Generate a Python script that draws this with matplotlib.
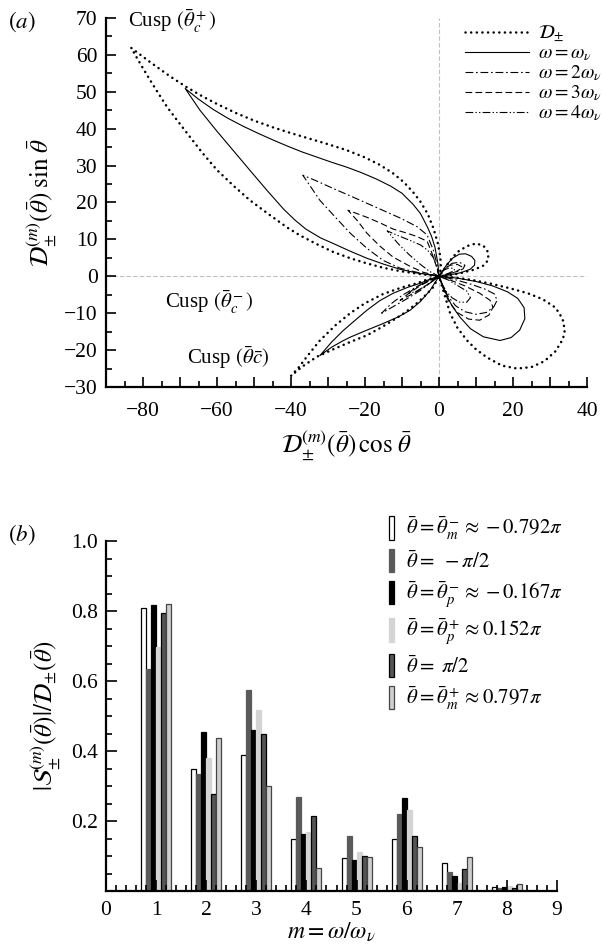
import numpy as np
import matplotlib
matplotlib.use('Agg')
import matplotlib.pyplot as plt
import matplotlib.transforms as mtransforms
from matplotlib.ticker import MultipleLocator, FuncFormatter

plt.rcParams['font.family'] = ['Liberation Serif', 'DejaVu Serif']
plt.rcParams['mathtext.fontset'] = 'stix'

# ---- panel (a): curves, each one path through the origin
# (big lobe -> lower-left lobe -> lower-right lobe -> upper-right lobe)
env_x = [0, 0.5, 0.4, -0.3, -1.5, -3, -5, -7, -9.5, -12.4, -16, -20, -25, -30, -35, -40, -45,
         -50, -55, -60, -64, -68.6, -73, -78, -83.2,
         -80.5, -78.1, -75.8, -73.5, -70.8, -68.1, -64, -60, -55.5, -51.1, -46, -41, -37.6,
         -33, -28.6, -24, -19.5, -15, -10.5, -5, 0,
         -3, -6, -10, -15.1, -20, -24, -28, -32.2, -35.5, -38, -40,
         -37, -33, -28.6, -24, -19.5, -15.5, -12.4, -9, -6, -3.5, -1.6, 0,
         0.6, 1.5, 3, 5, 7.6, 10, 13, 17, 21.1, 25, 28.5, 31.5, 33.5, 34, 33.4, 31.5, 28,
         24, 19, 14, 9, 4, 0,
         1.5, 3, 5, 7.6, 10, 12, 13.3, 13.3, 12, 9.5, 6, 3, 0]
env_y = [0, 2, 5, 8.9, 13, 16.8, 20.2, 22.8, 25.5, 27.9, 30.2, 32.2, 34.2, 35.8, 37.3, 38.8,
         40.4, 42.2, 44.3, 46.7, 48.8, 51.5, 54.4, 58, 61.9,
         57.2, 53.2, 49.5, 45.9, 42.3, 38.8, 33.5, 28.8, 24.5, 20.6, 16.8, 13.2, 11.1,
         8.7, 6.6, 4.9, 3.5, 2.3, 1.4, 0.6, 0,
         -0.8, -1.9, -3, -4.8, -7.3, -10, -13.3, -17.4, -21.5, -24.8, -27,
         -24.5, -21.8, -19.8, -17.8, -16, -13.8, -11.9, -9.7, -7.3, -5, -3, 0,
         -2, -5, -10, -14, -17.4, -19.8, -22, -24.2, -25, -24.6, -23, -20.3, -17, -14.6,
         -11.5, -8.5, -6.2, -4.6, -3.2, -2, -1, -0.3, 0,
         2, 4.3, 6.6, 8.2, 8.9, 8.3, 6.5, 4.4, 2.9, 1.8, 0.9, 0.3, 0]

w1_x = [0, -0.3, -1.1, -2, -3.2, -5, -7, -10, -13, -17, -21, -25, -29, -33, -37, -41, -45,
        -49, -53, -57, -61, -65, -68.6,
        -66.5, -64.6, -60, -55.7, -51, -46.5, -42, -39, -36, -32, -28.6, -24, -19.5, -15,
        -10.5, -6, -1.6, 0,
        -2.5, -5.1, -8.5, -12.4, -16, -19.5, -23, -26, -29, -32.2,
        -29, -26, -24, -20, -15.1, -11, -7.8, -5, -2.4, 0,
        0.8, 2, 3.5, 5.7, 8.5, 12, 16.5, 19.5, 21.8, 23.2, 23, 21.3, 18.5, 14.5, 10, 5, 0,
        1, 2.2, 3.8, 5.5, 7.2, 8.8, 9.7, 9.6, 8.4, 6, 3, 0]
w1_y = [0, 3.5, 7.9, 10.8, 13.5, 17, 19.5, 22.5, 24.4, 26.4, 28.1, 29.6, 30.9, 32.3, 33.7,
        35.3, 37, 38.8, 40.7, 42.8, 45.2, 48, 50.9,
        47.8, 45, 39.3, 34.2, 28.6, 23.3, 18.2, 15.3, 12.8, 10.4, 8.9, 6.8, 4.9, 3.3,
        1.9, 0.9, 0.3, 0,
        -0.8, -1.9, -3, -4.6, -6.6, -9.2, -12.2, -14.8, -17.8, -21.5,
        -19.2, -17.5, -16.5, -14.8, -12.8, -11, -9.2, -6.8, -3.8, 0,
        -2, -5, -8, -11.1, -14.2, -16.4, -17.4, -16.6, -14.6, -11.5, -8.5, -6, -4.2, -2.6,
        -1.4, -0.5, 0,
        1.5, 3.3, 5, 6, 6.1, 5.4, 4.3, 3, 1.9, 1, 0.4, 0]

w2_x = [0, -0.5, -1.5, -3.2, -6, -10.5, -15, -19.5, -24, -28.6, -33, -36.8,
        -34.5, -32.2, -28, -24, -19.5, -15.1, -10.5, -6, -3, 0,
        -3, -6, -10, -13, -15.5, -12, -8.5, -5, -2, 0,
        1, 2.5, 4.5, 7, 10, 12.8, 14.8, 15.7, 15, 12.5, 8.5, 4, 0,
        1.5, 3.5, 5.5, 7, 6.5, 5, 2, 0]
w2_y = [0, 3, 7, 11.2, 13.5, 15.8, 17.8, 19.8, 21.8, 23.8, 25.8, 27.4,
        24, 20.6, 16, 11.7, 7.6, 4.3, 2.2, 1.1, 0.5, 0,
        -1.2, -2.8, -5.2, -7.5, -10, -8, -6, -3.8, -1.5, 0,
        -2.5, -5.5, -8, -9.6, -10.3, -9.8, -8.3, -6.5, -4.8, -3.5, -2.1, -0.8, 0,
        2, 3.5, 3.8, 3, 2, 1.3, 0.5, 0]

w3_x = [0, -0.8, -2, -3.2, -6, -9, -12.4, -16, -19.5, -24.6,
        -22, -19.5, -16, -12.4, -8, -4.3, 0,
        -2.5, -5, -8, -10.5, -8, -5, -2.5, 0,
        1, 2.5, 4.9, 8, 11, 13.5, 14.6, 13.8, 11, 7, 3, 0,
        1.5, 3, 5, 6.3, 5.5, 4.5, 2, 0]
w3_y = [0, 3, 6.5, 9.5, 10.8, 11.8, 12.8, 14.5, 16, 17.9,
        15, 11.7, 8.2, 5.2, 2.8, 1.1, 0,
        -1.2, -2.5, -4.5, -6.5, -5.2, -3.5, -1.8, 0,
        -3, -6.5, -9.8, -11.6, -11.9, -10.5, -8.4, -6.5, -4.6, -2.6, -1, 0,
        2.2, 3, 3.2, 2.5, 1.8, 1.2, 0.4, 0]

w4_x = [0, -0.5, -1.5, -3, -5, -8, -11, -14,
        -11, -8, -5, -2.5, 0,
        -2, -4, -6.5, -8.5, -6, -3.5, -1.5, 0,
        0.8, 2, 3.5, 5.5, 7.5, 8.5, 7.5, 5, 2.5, 0,
        1, 2.5, 4, 4.2, 3, 1.5, 0]
w4_y = [0, 2.5, 5, 7, 8.5, 9.8, 11, 12.3,
        8.8, 5.8, 3.2, 1.3, 0,
        -0.8, -1.8, -3.2, -4.8, -4, -2.5, -1.1, 0,
        -2, -4.2, -5.8, -7, -7, -5.8, -4, -2.5, -1, 0,
        1.5, 2.2, 2.2, 1.6, 1, 0.4, 0]

curve_labels = [r'$\mathcal{D}_{\pm}$', r'$\omega=\omega_\nu$', r'$\omega=2\omega_\nu$',
                r'$\omega=3\omega_\nu$', r'$\omega=4\omega_\nu$']

# ---- panel (b): bar heights per harmonic
m_vals = [1, 2, 3, 4, 5, 6, 7, 8]
s_m_minus = [0.81, 0.349, 0.388, 0.149, 0.095, 0.15, 0.08, 0.011]
s_neg_half = [0.634, 0.334, 0.574, 0.269, 0.157, 0.22, 0.054, 0.009]
s_p_minus = [0.817, 0.453, 0.46, 0.163, 0.088, 0.266, 0.042, 0.012]
s_p_plus = [0.698, 0.380, 0.517, 0.169, 0.111, 0.231, 0.024, 0.014]
s_pos_half = [0.794, 0.276, 0.448, 0.213, 0.10, 0.156, 0.064, 0.01]
s_m_plus = [0.819, 0.438, 0.299, 0.065, 0.097, 0.125, 0.097, 0.019]
bar_labels = [r'$\bar\theta=\bar\theta_m^-\approx -0.792\pi$',
              r'$\bar\theta=\ -\pi/2$',
              r'$\bar\theta=\bar\theta_p^-\approx -0.167\pi$',
              r'$\bar\theta=\bar\theta_p^+\approx 0.152\pi$',
              r'$\bar\theta=\ \pi/2$',
              r'$\bar\theta=\bar\theta_m^+\approx 0.797\pi$']

fig = plt.figure(figsize=(6.03, 9.52), dpi=100)

# ================= (a)
ax1 = fig.add_axes([106/603, 1-387/952, 481/603, 369/952])
ax1.axhline(0, color='#c0c0c0', lw=0.8, dashes=(4, 2), zorder=0)
ax1.axvline(0, color='#c0c0c0', lw=0.8, dashes=(4, 2), zorder=0)
ax1.plot(env_x, env_y, color='k', lw=1.8, linestyle=(0, (0.05, 2.2)),
         dash_capstyle='round', label=curve_labels[0])
ax1.plot(w1_x, w1_y, color='k', lw=0.8, label=curve_labels[1])
ax1.plot(w2_x, w2_y, color='k', lw=0.8, linestyle=(0, (7, 2.5, 1.5, 2.5)), label=curve_labels[2])
ax1.plot(w3_x, w3_y, color='k', lw=0.8, linestyle=(0, (6, 3)), label=curve_labels[3])
ax1.plot(w4_x, w4_y, color='k', lw=0.8, linestyle=(0, (7, 2, 1.2, 2, 1.2, 2)), label=curve_labels[4])

ax1.set_xlim(-90, 40)
ax1.set_ylim(-30, 70)
for s in ['top', 'right']:
    ax1.spines[s].set_visible(False)
for s in ['left', 'bottom']:
    ax1.spines[s].set_linewidth(1.6)
ax1.xaxis.set_major_locator(MultipleLocator(10))
ax1.xaxis.set_minor_locator(MultipleLocator(5))
ax1.xaxis.set_major_formatter(FuncFormatter(
    lambda v, p: '' if int(round(v)) % 20 else ('%d' % v).replace('-', '\u2212')))
ax1.yaxis.set_major_locator(MultipleLocator(10))
ax1.yaxis.set_minor_locator(MultipleLocator(5))
ax1.yaxis.set_major_formatter(FuncFormatter(lambda v, p: ('%d' % v).replace('-', '\u2212')))
ax1.tick_params(which='both', direction='in', width=1.2, labelsize=15.5)
ax1.tick_params(which='major', length=7)
ax1.tick_params(which='minor', length=4)
ax1.tick_params(axis='x', pad=11)
ax1.tick_params(axis='y', pad=6)
ax1.set_xlabel(r'$\mathcal{D}_{\pm}^{(m)}(\bar\theta)\,\cos\,\bar\theta$', fontsize=18, labelpad=5)
ax1.set_ylabel(r'$\mathcal{D}_{\pm}^{(m)}(\bar\theta)\;\sin\,\bar\theta$', fontsize=18, labelpad=4)

ax1.text(-84, 69, r'Cusp $(\bar\theta_c^+)$', fontsize=15, va='center', ha='left')
ax1.text(-74, -7, r'Cusp $(\bar\theta_c^-)$', fontsize=15, va='center', ha='left')
ax1.text(-68, -22, r'Cusp $(\bar\theta\bar c)$', fontsize=15, va='center', ha='left')

ax1.legend(loc='upper left', bbox_to_anchor=(465/603, 1-24/952), bbox_transform=fig.transFigure,
           frameon=False, fontsize=14, handlelength=3.3, handletextpad=0.45,
           labelspacing=0.02, borderpad=0, borderaxespad=0)
fig.text(8/603, 1-22/952, r'$(a)$', fontsize=16.5, va='center')

# ================= (b)
ax2 = fig.add_axes([106/603, 1-891/952, 451/603, 350/952])
series = [s_m_minus, s_neg_half, s_p_minus, s_p_plus, s_pos_half, s_m_plus]
faces = ['white', '#5a5a5a', 'black', '#d4d4d4', '#555555', '#cfcfcf']
edges = ['black', '#5a5a5a', 'black', '#d4d4d4', 'black', '#444444']
offsets = [-0.25, -0.15, -0.05, 0.05, 0.15, 0.25]
m_arr = np.array(m_vals)
for vals, fc, ec, off, lab in zip(series, faces, edges, offsets, bar_labels):
    ax2.bar(m_arr + off, vals, width=0.1, color=fc, edgecolor=ec, linewidth=0.9, label=lab)

ax2.set_xlim(0, 9)
ax2.set_ylim(0, 1.0)
for s in ['top', 'right']:
    ax2.spines[s].set_visible(False)
for s in ['left', 'bottom']:
    ax2.spines[s].set_linewidth(1.6)
ax2.xaxis.set_major_locator(MultipleLocator(1))
ax2.xaxis.set_minor_locator(MultipleLocator(0.2))
ax2.yaxis.set_major_locator(MultipleLocator(0.2))
ax2.yaxis.set_minor_locator(MultipleLocator(0.05))
ax2.yaxis.set_major_formatter(FuncFormatter(lambda v, p: '' if abs(v) < 1e-9 else '%.1f' % v))
ax2.tick_params(which='both', direction='in', width=1.2, labelsize=15.5)
ax2.tick_params(which='major', length=8)
ax2.tick_params(which='minor', length=4.5)
ax2.tick_params(axis='x', pad=7)
ax2.tick_params(axis='y', pad=6)
ax2.set_xlabel(r'$m=\omega/\omega_\nu$', fontsize=17, labelpad=1)
ax2.set_ylabel(r'$|\mathcal{S}_{\pm}^{(m)}(\bar\theta)|/\mathcal{D}_{\pm}(\bar\theta)$', fontsize=18, labelpad=6)

fig.canvas.draw()
shift = mtransforms.ScaledTranslation(-16/100, 0, fig.dpi_scale_trans)
xl0 = ax2.get_xticklabels()[0]
xl0.set_transform(xl0.get_transform() + shift)

ax2.legend(loc='upper left', bbox_to_anchor=(389/603, 1-515/952), bbox_transform=fig.transFigure,
           frameon=False, fontsize=15, handlelength=0.25, handleheight=1.35,
           handletextpad=0.55, labelspacing=0.33, borderpad=0, borderaxespad=0)
fig.text(8/603, 1-535/952, r'$(b)$', fontsize=16.5, va='center')

fig.savefig('out.png', dpi=100)
